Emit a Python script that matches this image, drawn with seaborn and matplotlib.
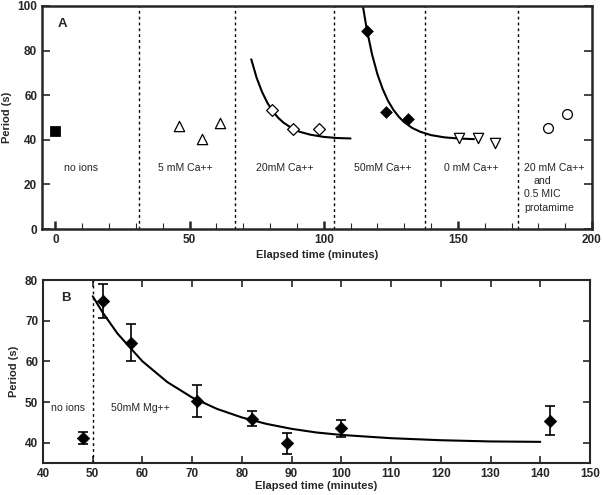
import numpy as np
import pandas as pd
import matplotlib
matplotlib.use("Agg")
import matplotlib.pyplot as plt
import seaborn as sns
from matplotlib.ticker import MultipleLocator

# ---------------- Panel A data ----------------
noion_t = [0]
noion_p = [44]
ca5_t = [46, 54.5, 61.5]
ca5_p = [46, 40.2, 47.7]
ca20_t = [80.6, 88.7, 98.1]
ca20_p = [53.4, 44.7, 45.0]
ca50_t = [116, 123.4, 131.5]
ca50_p = [88.8, 52.5, 49.3]
ca0_t = [150.6, 157.4, 163.7]
ca0_p = [40.7, 40.7, 38.7]
prot_t = [183.5, 190.6]
prot_p = [45.4, 51.4]

fit20_t = [73, 75, 77, 79, 81, 83, 85, 88, 91, 95, 100, 105, 110]
fit20_p = [76.1, 67.8, 61.5, 56.6, 52.8, 49.9, 47.7, 45.3, 43.6, 42.3, 41.3, 40.8, 40.6]
fit50_t = [114.6, 116, 118, 120, 122, 124, 126, 128, 130, 133, 136, 140, 145, 150, 156]
fit50_p = [100, 89.9, 78.4, 69.5, 62.7, 57.4, 53.4, 50.3, 47.9, 45.3, 43.6, 42.1, 41.1, 40.6, 40.3]

bounds_A = [31, 67, 104, 137.7, 172.4]
region_labels = ["no ions", "5 mM Ca++", "20mM Ca++", "50mM Ca++", "0 mM Ca++"]
region_label_x = [9.7, 48.4, 85.6, 122.2, 155]

# ---------------- Panel B data ----------------
mg_t = [48, 52, 57.6, 71, 82, 89, 100, 142]
mg_p = [41.1, 74.8, 64.5, 50.2, 45.9, 39.8, 43.6, 45.3]
mg_lo = [39.6, 70.7, 60.0, 46.2, 44.0, 37.1, 41.4, 41.8]
mg_hi = [42.6, 78.9, 69.1, 54.1, 47.7, 42.5, 45.5, 49.0]

fitB_t = [50, 52, 55, 60, 65, 70, 75, 80, 85, 90, 95, 100, 110, 120, 130, 140]
fitB_p = [76.0, 72.0, 66.8, 60.0, 54.9, 51.1, 48.3, 46.2, 44.6, 43.4, 42.5, 41.9, 41.1, 40.6, 40.3, 40.2]

sns.set_style("ticks")
plt.rcParams['font.family'] = ['Liberation Sans', 'DejaVu Sans']

fig = plt.figure(figsize=(6.03, 4.95), dpi=100)
axA = fig.add_axes([42/603, 1-229/495, 550/603, 223/495])
axB = fig.add_axes([43/603, 1-463/495, 547/603, 183/495])

TXT = 7.6
TICK = 8.5

# ---- Panel A ----
for xv in bounds_A:
    axA.axvline(xv, color='black', lw=1, ls=(0, (2, 2.2)), zorder=1)

sns.lineplot(x=fit20_t, y=fit20_p, ax=axA, color='black', lw=1.5, sort=False, estimator=None, zorder=2)
sns.lineplot(x=fit50_t, y=fit50_p, ax=axA, color='black', lw=1.5, sort=False, estimator=None, zorder=2)

sns.scatterplot(x=noion_t, y=noion_p, ax=axA, marker='s', s=48, color='black', edgecolor='black', zorder=3)
sns.scatterplot(x=ca5_t, y=ca5_p, ax=axA, marker='^', s=55, facecolor='white', edgecolor='black', linewidth=0.9, zorder=3)
sns.scatterplot(x=ca20_t, y=ca20_p, ax=axA, marker='D', s=36, facecolor='white', edgecolor='black', linewidth=0.9, zorder=3)
sns.scatterplot(x=ca50_t, y=ca50_p, ax=axA, marker='D', s=36, color='black', edgecolor='black', zorder=3)
sns.scatterplot(x=ca0_t, y=ca0_p, ax=axA, marker='v', s=55, facecolor='white', edgecolor='black', linewidth=0.9, zorder=3)
sns.scatterplot(x=prot_t, y=prot_p, ax=axA, marker='o', s=50, facecolor='white', edgecolor='black', linewidth=0.9, zorder=3)

axA.set_xlim(-5, 200)
axA.set_ylim(0, 100)
axA.xaxis.set_major_locator(MultipleLocator(50))
axA.xaxis.set_minor_locator(MultipleLocator(10))
axA.yaxis.set_major_locator(MultipleLocator(20))
axA.tick_params(axis='x', which='major', direction='in', length=6, width=1.8, top=False, labelsize=TICK)
axA.tick_params(axis='x', which='minor', direction='in', length=4, width=0.8, top=False)
axA.tick_params(axis='y', which='major', direction='in', length=6, width=1.2, right=True, labelsize=TICK)
for lab in axA.get_xticklabels() + axA.get_yticklabels():
    lab.set_fontweight('bold')
for sp in axA.spines.values():
    sp.set_visible(True)
    sp.set_linewidth(1.8)
axA.set_xlabel("Elapsed time (minutes)", fontsize=8, fontweight='bold', labelpad=3)
axA.set_ylabel("Period (s)", fontsize=8, fontweight='bold', labelpad=4)

axA.text(2.5, 92, "A", fontsize=9.5, fontweight='bold', ha='center', va='center')
for lx, lt in zip(region_label_x, region_labels):
    axA.text(lx, 27.3, lt, fontsize=TXT, ha='center', va='center')
axA.text(174.6, 27.4, "20 mM Ca++", fontsize=TXT, ha='left', va='center')
axA.text(178.1, 21.4, "and", fontsize=TXT, ha='left', va='center')
axA.text(174.6, 15.9, "0.5 MIC", fontsize=TXT, ha='left', va='center')
axA.text(174.6, 9.5, "protamime", fontsize=TXT, ha='left', va='center')

# ---- Panel B ----
axB.axvline(50, color='black', lw=1, ls=(0, (2, 2.2)), zorder=1)
sns.lineplot(x=fitB_t, y=fitB_p, ax=axB, color='black', lw=1.5, sort=False, estimator=None, zorder=2)
yerr = [np.array(mg_p) - np.array(mg_lo), np.array(mg_hi) - np.array(mg_p)]
axB.errorbar(mg_t, mg_p, yerr=yerr, fmt='none', ecolor='black', elinewidth=1.2, capsize=3.5, capthick=1.2, zorder=3)
sns.scatterplot(x=mg_t, y=mg_p, ax=axB, marker='D', s=40, color='black', edgecolor='black', zorder=4)

axB.set_xlim(40, 150)
axB.set_ylim(35, 80)
axB.xaxis.set_major_locator(MultipleLocator(10))
axB.yaxis.set_major_locator(MultipleLocator(10))
axB.tick_params(axis='both', which='major', direction='in', length=5, width=1.2, top=True, right=True, labelsize=TICK)
for lab in axB.get_xticklabels() + axB.get_yticklabels():
    lab.set_fontweight('bold')
for sp in axB.spines.values():
    sp.set_visible(True)
    sp.set_linewidth(1.5)
axB.set_xlabel("Elapsed time (minutes)", fontsize=8, fontweight='bold', labelpad=1)
axB.set_ylabel("Period (s)", fontsize=8, fontweight='bold', labelpad=4)
axB.text(44.7, 75.6, "B", fontsize=9.5, fontweight='bold', ha='center', va='center')
axB.text(45, 48.6, "no ions", fontsize=TXT, ha='center', va='center')
axB.text(59.6, 48.6, "50mM Mg++", fontsize=TXT, ha='center', va='center')

fig.savefig("out.png", dpi=100)
